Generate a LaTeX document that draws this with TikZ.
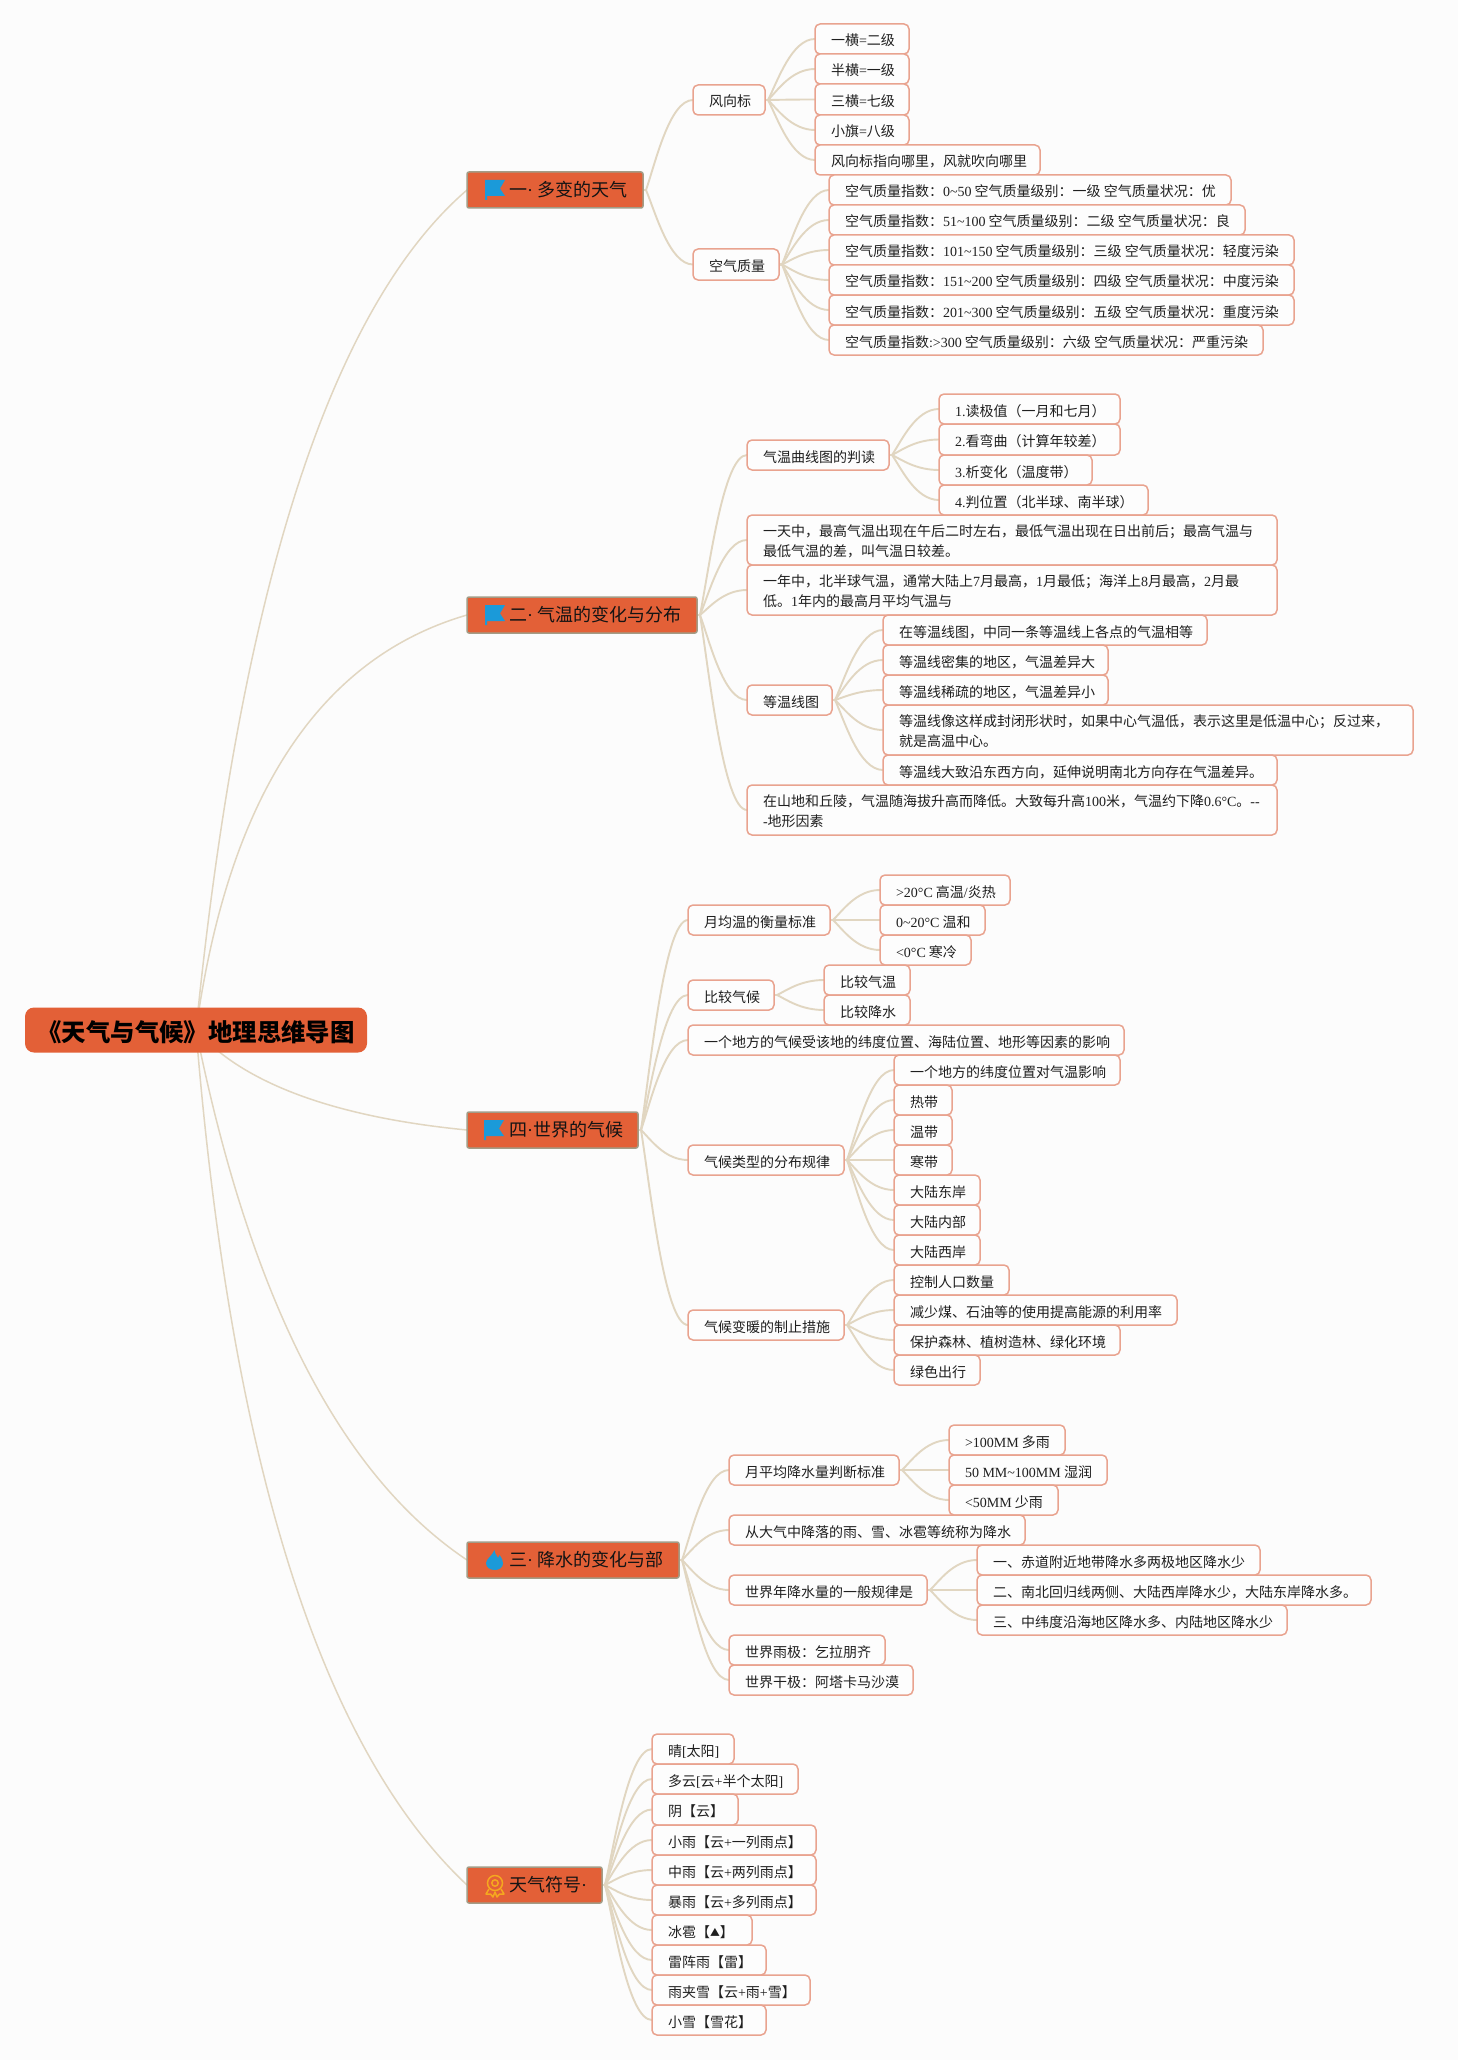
\documentclass[tikz,border=0pt]{standalone}
\usepackage{fontspec}
\setmainfont{Noto Sans CJK SC}
\newfontfamily\latf{Liberation Serif}
\usetikzlibrary{calc,backgrounds}
\newcommand{\lat}[1]{{\latf #1}}
\newcommand{\tld}{\symbol{126}}
\definecolor{pagebg}{HTML}{FCFCFC}
\definecolor{leafedge}{HTML}{E9A38F}
\definecolor{leaffill}{HTML}{FDFDFD}
\definecolor{orangefill}{HTML}{E36037}
\definecolor{secedge}{HTML}{A39C86}
\definecolor{linkc}{HTML}{E1D6C1}
\definecolor{flagblue}{HTML}{1B9AD9}
\definecolor{medal}{HTML}{F5A81F}
\tikzset{
  leaf/.style={draw=leafedge,fill=leaffill,line width=1.5pt,rounded corners=5pt,inner sep=0pt,outer sep=0pt,font=\fontsize{14}{20}\selectfont,text=black!88},
  sect/.style={draw=secedge,fill=orangefill,line width=1.5pt,rounded corners=2pt,inner sep=0pt,outer sep=0pt,font=\fontsize{18}{22}\selectfont,text=black!92},
  rootn/.style={fill=orangefill,rounded corners=9pt,inner sep=0pt,outer sep=0pt,font=\fontsize{24.4}{28}\selectfont\bfseries,text=black},
  link/.style={draw=linkc,line width=1.9pt},
  rootlink/.style={draw=linkc,line width=1.5pt},
  flagi/.style={fill=flagblue},
}
\newcommand{\bx}[6]{%
  \pgfmathsetmacro\bxw{#4-#2-32}%
  \node[leaf,minimum width={(#4-#2)*1pt},minimum height={(#5-#3)*1pt}] (#1) at ({(#2+#4)/2},{(#3+#5)/2})
    {\makebox[\bxw pt][l]{\rule[-3pt]{0pt}{20pt}#6}};}
\newcommand{\twol}[2]{\vbox{\vskip5pt\baselineskip=20pt\hbox{#1}\hbox{#2}}}
\newcommand{\sx}[5]{%
  \pgfmathsetmacro\bxw{#3-467-42}%
  \node[sect,minimum width={(#3-467)*1pt},minimum height=36pt,anchor=west] (#1) at (467,#2)
    {\hspace*{42pt}\makebox[\bxw pt][l]{\rule[-4pt]{0pt}{21pt}#4}};}
\newcommand{\curve}[6]{%
  \path[rootlink] let \p1=(#1),\p2=(#2),\n1={\x2-\x1},\n2={\y2-\y1} in
    (\x1,\y1) .. controls (\x1+#3*\n1,\y1+#4*\n2) and (\x1+#5*\n1,\y1+#6*\n2) .. (\x2,\y2);}
\newcommand{\lk}[2]{%
  \path[link] let \p1=(#1.east),\p2=(#2.west),\n1={\x2-\x1-3pt},\n2={\y2-\y1} in
    (\x1,\y1) -- (\x1+3pt,\y1) .. controls (\x1+3pt+0.2*\n1,\y1+0.3*\n2) and (\x1+3pt+0.5*\n1,\y2) .. (\x2,\y2);}
\newcommand{\lks}[2]{\foreach \ch in {#2}{\lk{#1}{\ch}}}
\newcommand{\flagicon}[2]{%
  \begin{scope}[shift={(#1,#2)}]
    \fill[flagi] (0,0) -- (20,0) -- (15,8.5) -- (20,16) -- (2,16) -- (2,20) -- (0,20) -- cycle;
  \end{scope}}
\begin{document}
\begin{tikzpicture}[x=1pt,y=-1pt]
\useasboundingbox (0,0) rectangle (1458,2060);
% root
\node[rootn,minimum width=342pt,minimum height=45pt] (root) at (196,1030) {\rule[-5pt]{0pt}{32pt}《天气与气候》地理思维导图};
% section one
\sx{s1}{190}{643}{一\lat{·} 多变的天气}{}
\bx{a}{693}{85}{765}{115}{风向标}
\bx{a1}{815}{24}{909}{54}{一横\lat{=}二级}
\bx{a2}{815}{54}{909}{84}{半横\lat{=}一级}
\bx{a3}{815}{84}{909}{115}{三横\lat{=}七级}
\bx{a4}{815}{115}{909}{145}{小旗\lat{=}八级}
\bx{a5}{815}{145}{1040}{175}{风向标指向哪里，风就吹向哪里}
\bx{b}{693}{249}{779}{280}{空气质量}
\bx{b1}{829}{175}{1231}{205}{空气质量指数：\lat{0\tld50} 空气质量级别：一级 空气质量状况：优}
\bx{b2}{829}{205}{1245}{235}{空气质量指数：\lat{51\tld100} 空气质量级别：二级 空气质量状况：良}
\bx{b3}{829}{235}{1294}{265}{空气质量指数：\lat{101\tld150} 空气质量级别：三级 空气质量状况：轻度污染}
\bx{b4}{829}{265}{1294}{295}{空气质量指数：\lat{151\tld200} 空气质量级别：四级 空气质量状况：中度污染}
\bx{b5}{829}{295}{1294}{325}{空气质量指数：\lat{201\tld300} 空气质量级别：五级 空气质量状况：重度污染}
\bx{b6}{829}{325}{1263}{355}{空气质量指数\lat{:>300} 空气质量级别：六级 空气质量状况：严重污染}
% section two
\sx{s2}{615}{697}{二\lat{·} 气温的变化与分布}{}
\bx{c}{747}{440}{889}{470}{气温曲线图的判读}
\bx{c1}{939}{394}{1120}{424}{\lat{1.}读极值（一月和七月）}
\bx{c2}{939}{424}{1120}{455}{\lat{2.}看弯曲（计算年较差）}
\bx{c3}{939}{455}{1092}{485}{\lat{3.}析变化（温度带）}
\bx{c4}{939}{485}{1148}{515}{\lat{4.}判位置（北半球、南半球）}
\bx{d}{747}{515}{1277}{565}{\twol{一天中，最高气温出现在午后二时左右，最低气温出现在日出前后；最高气温与}{最低气温的差，叫气温日较差。}}
\bx{e}{747}{565}{1277}{615}{\twol{一年中，北半球气温，通常大陆上\lat{7}月最高，\lat{1}月最低；海洋上\lat{8}月最高，\lat{2}月最}{低。\lat{1}年内的最高月平均气温与}}
\bx{f}{747}{685}{832}{715}{等温线图}
\bx{f1}{883}{615}{1207}{645}{在等温线图，中同一条等温线上各点的气温相等}
\bx{f2}{883}{645}{1108}{675}{等温线密集的地区，气温差异大}
\bx{f3}{883}{675}{1108}{705}{等温线稀疏的地区，气温差异小}
\bx{f4}{883}{705}{1413}{755}{\twol{等温线像这样成封闭形状时，如果中心气温低，表示这里是低温中心；反过来，}{就是高温中心。}}
\bx{f5}{883}{755}{1277}{785}{等温线大致沿东西方向，延伸说明南北方向存在气温差异。}
\bx{g}{747}{785}{1277}{835}{\twol{在山地和丘陵，气温随海拔升高而降低。大致每升高\lat{100}米，气温约下降\lat{0.6°C}。\lat{--}}{\lat{-}地形因素}}
% section four
\sx{s4}{1130}{638}{四\lat{·}世界的气候}{}
\bx{h}{688}{905}{830}{935}{月均温的衡量标准}
\bx{h1}{880}{875}{1010}{905}{\lat{>20°C} 高温\lat{/}炎热}
\bx{h2}{880}{905}{985}{935}{\lat{0\tld20°C} 温和}
\bx{h3}{880}{935}{971}{965}{\lat{<0°C} 寒冷}
\bx{i}{688}{980}{774}{1010}{比较气候}
\bx{i1}{824}{965}{910}{995}{比较气温}
\bx{i2}{824}{995}{910}{1025}{比较降水}
\bx{j}{688}{1025}{1124}{1055}{一个地方的气候受该地的纬度位置、海陆位置、地形等因素的影响}
\bx{k}{688}{1145}{844}{1175}{气候类型的分布规律}
\bx{k1}{894}{1055}{1120}{1085}{一个地方的纬度位置对气温影响}
\bx{k2}{894}{1085}{952}{1115}{热带}
\bx{k3}{894}{1115}{952}{1145}{温带}
\bx{k4}{894}{1145}{952}{1175}{寒带}
\bx{k5}{894}{1175}{980}{1205}{大陆东岸}
\bx{k6}{894}{1205}{980}{1235}{大陆内部}
\bx{k7}{894}{1235}{980}{1265}{大陆西岸}
\bx{l}{688}{1310}{844}{1340}{气候变暖的制止措施}
\bx{l1}{894}{1265}{1009}{1295}{控制人口数量}
\bx{l2}{894}{1295}{1177}{1325}{减少煤、石油等的使用提高能源的利用率}
\bx{l3}{894}{1325}{1120}{1355}{保护森林、植树造林、绿化环境}
\bx{l4}{894}{1355}{980}{1385}{绿色出行}
% section three
\sx{s3}{1560}{679}{三\lat{·} 降水的变化与部}{}
\bx{m}{729}{1455}{899}{1485}{月平均降水量判断标准}
\bx{m1}{949}{1425}{1065}{1455}{\lat{>100MM} 多雨}
\bx{m2}{949}{1455}{1107}{1485}{\lat{50 MM\tld100MM} 湿润}
\bx{m3}{949}{1485}{1058}{1515}{\lat{<50MM} 少雨}
\bx{n}{729}{1515}{1025}{1545}{从大气中降落的雨、雪、冰雹等统称为降水}
\bx{o}{729}{1575}{927}{1605}{世界年降水量的一般规律是}
\bx{o1}{977}{1545}{1260}{1575}{一、赤道附近地带降水多两极地区降水少}
\bx{o2}{977}{1575}{1371}{1605}{二、南北回归线两侧、大陆西岸降水少，大陆东岸降水多。}
\bx{o3}{977}{1605}{1287}{1635}{三、中纬度沿海地区降水多、内陆地区降水少}
\bx{p}{729}{1635}{885}{1665}{世界雨极：乞拉朋齐}
\bx{q}{729}{1665}{913}{1695}{世界干极：阿塔卡马沙漠}
% section symbols
\sx{s5}{1885}{602}{天气符号\lat{·}}{}
\bx{r1}{652}{1734}{734}{1764}{晴\lat{[}太阳\lat{]}}
\bx{r2}{652}{1764}{798}{1794}{多云\lat{[}云\lat{+}半个太阳\lat{]}}
\bx{r3}{652}{1794}{738}{1825}{阴【云】}
\bx{r4}{652}{1825}{816}{1855}{小雨【云\lat{+}一列雨点】}
\bx{r5}{652}{1855}{816}{1885}{中雨【云\lat{+}两列雨点】}
\bx{r6}{652}{1885}{816}{1915}{暴雨【云\lat{+}多列雨点】}
\bx{r7}{652}{1915}{752}{1945}{冰雹【\raisebox{0.8pt}{\scalebox{0.7}{▲}}】}
\bx{r8}{652}{1945}{766}{1975}{雷阵雨【雷】}
\bx{r9}{652}{1975}{810}{2005}{雨夹雪【云\lat{+}雨\lat{+}雪】}
\bx{r10}{652}{2005}{766}{2035}{小雪【雪花】}
% icons
\flagicon{485}{180}
\flagicon{485}{605}
\flagicon{484}{1120}
\fill[flagblue] (494.5,1550) .. controls (495,1554) and (497,1556) .. (498,1558) .. controls (499,1557) and (499.5,1556) .. (499.5,1555) .. controls (502,1558) and (503,1561) .. (503,1563.5) .. controls (503,1567.5) and (499,1570) .. (495,1570) .. controls (490,1570) and (486,1567.5) .. (486,1563) .. controls (486,1559) and (492,1556) .. (494.5,1550) -- cycle;
\begin{scope}[medal,line width=1.5pt]
\draw (495,1883) circle (7.5);
\draw (495,1883) circle (3.2);
\draw[line join=round] (489,1889) -- (486,1894) -- (490.5,1894) -- (493,1897) -- (495,1892) -- (497,1897) -- (499.5,1894) -- (504,1894) -- (501,1889);
\end{scope}
% connectors and page behind the nodes
\begin{pgfonlayer}{background}
\fill[pagebg] (0,0) rectangle (1458,2060);
\curve{root.center}{s1.west}{0.163}{0.524}{0.496}{0.86}
\curve{root.center}{s2.west}{0.119}{0.561}{0.452}{0.896}
\curve{root.center}{s4.west}{0.173}{0.53}{0.507}{0.87}
\curve{root.center}{s3.west}{0.2}{0.508}{0.533}{0.84}
\curve{root.center}{s5.west}{0.13}{0.507}{0.463}{0.84}
\lks{s1}{a,b}
\lks{a}{a1,a2,a3,a4,a5}
\lks{b}{b1,b2,b3,b4,b5,b6}
\lks{s2}{c,d,e,f,g}
\lks{c}{c1,c2,c3,c4}
\lks{f}{f1,f2,f3,f4,f5}
\lks{s4}{h,i,j,k,l}
\lks{h}{h1,h2,h3}
\lks{i}{i1,i2}
\lks{k}{k1,k2,k3,k4,k5,k6,k7}
\lks{l}{l1,l2,l3,l4}
\lks{s3}{m,n,o,p,q}
\lks{m}{m1,m2,m3}
\lks{o}{o1,o2,o3}
\lks{s5}{r1,r2,r3,r4,r5,r6,r7,r8,r9,r10}
\end{pgfonlayer}
\end{tikzpicture}
\end{document}
